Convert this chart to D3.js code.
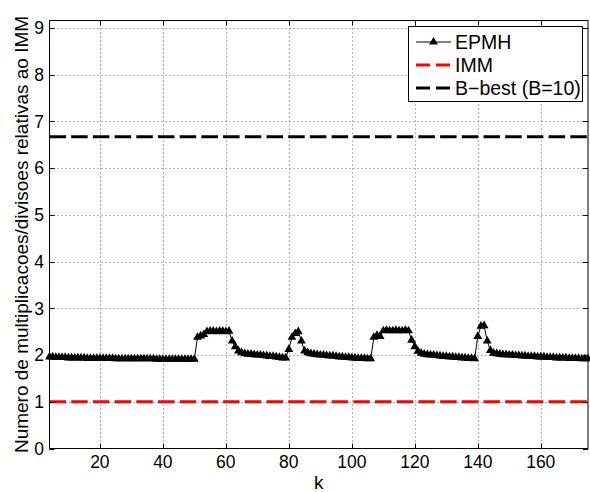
<!DOCTYPE html>
<html>
<head>
<meta charset="utf-8">
<script src="https://cdn.jsdelivr.net/npm/d3@7"></script>
<style>
  body { margin: 0; background: #fff; }
  svg { display: block; font-family: "Liberation Sans", Arial, Helvetica, sans-serif; }
</style>
</head>
<body>
<div id="chart"></div>
<script>
// ---- data ----
var kFirst = 4;   // first k of the EPMH series
var epmh = [
  1.96,1.96,1.95,1.95,1.95,1.95,1.94,1.94,1.94,1.94,
  1.94,1.94,1.93,1.93,1.93,1.93,1.93,1.93,1.93,1.93,
  1.93,1.92,1.92,1.92,1.92,1.92,1.92,1.92,1.92,1.92,
  1.92,1.92,1.92,1.92,1.91,1.91,1.91,1.91,1.91,1.91,
  1.91,1.91,1.91,1.91,1.91,1.91,
  1.91,
  2.38,2.41,2.44,2.50,2.51,2.51,2.50,2.51,2.51,2.50,2.51,
  2.30,2.18,2.09,2.05,2.03,2.02,2.02,2.01,2.00,2.00,1.99,1.98,1.97,1.97,1.96,1.95,1.94,1.94,
  2.12,2.38,2.46,2.50,2.30,2.09,
  2.05,2.03,2.02,2.01,2.00,2.00,1.99,1.98,1.98,1.97,1.96,1.96,1.95,1.95,1.94,1.94,1.93,1.93,1.93,1.92,1.92,
  2.38,2.42,2.40,2.52,2.53,2.52,2.52,2.53,2.52,2.52,2.53,2.52,
  2.32,2.18,2.08,2.04,2.02,2.01,2.00,2.00,1.99,1.98,1.97,1.97,1.96,1.96,1.95,1.95,1.94,1.94,1.93,1.93,1.92,
  2.40,2.62,2.63,2.30,2.10,
  2.04,2.03,2.02,2.01,2.01,2.00,2.00,1.99,1.99,1.98,1.98,1.97,1.97,1.97,1.96,1.96,1.96,1.95,1.95,1.95,
  1.94,1.94,1.94,1.94,1.93,1.93,1.93,1.93,1.92,1.92,1.92
];
var immLevel = 1;        // IMM reference
var bBestLevel = 6.67;   // B-best (B=10)
var xTicks = [20, 40, 60, 80, 100, 120, 140, 160];
var yTicks = [0, 1, 2, 3, 4, 5, 6, 7, 8, 9];
var xDomain = [4, 175];
var yDomain = [0, 9.16];
var legendLabels = ["EPMH", "IMM", "B\u2212best (B=10)"];

(function(){
  // ---- layout ----
  var W = 590, H = 492;
  var mLeft = 49.5, mTop = 20.5, mRight = 588, mBottom = 448.5;

  var svg = d3.select("#chart").append("svg")
    .attr("width", W)
    .attr("height", H);

  var x = d3.scaleLinear().domain(xDomain).range([mLeft, mRight]);
  var y = d3.scaleLinear().domain(yDomain).range([mBottom, mTop]);

  //grid
  var grid = svg.append("g").attr("class", "grid")
    .attr("stroke", "#444")
    .attr("stroke-width", 0.8)
    .attr("stroke-dasharray", "1,3");

  grid.selectAll("line.gx")
    .data(xTicks)
    .enter().append("line")
    .attr("x1", function(d){ return Math.round(x(d)) + 0.5; })
    .attr("x2", function(d){ return Math.round(x(d)) + 0.5; })
    .attr("y1", mTop).attr("y2", mBottom);

  grid.selectAll("line.gy")
    .data(yTicks.filter(function(d){ return d > 0; }))
    .enter().append("line")
    .attr("y1", function(d){ return Math.round(y(d)) + 0.5; })
    .attr("y2", function(d){ return Math.round(y(d)) + 0.5; })
    .attr("x1", mLeft).attr("x2", mRight);

  //reference lines
  svg.append("line")
    .attr("x1", mLeft).attr("x2", mRight)
    .attr("y1", y(bBestLevel)).attr("y2", y(bBestLevel))
    .attr("stroke", "#000")
    .attr("stroke-width", 3)
    .attr("stroke-dasharray", "16.5,5.2");

  svg.append("line")
    .attr("x1", mLeft).attr("x2", mRight)
    .attr("y1", y(immLevel)).attr("y2", y(immLevel))
    .attr("stroke", "#ff0000")
    .attr("stroke-width", 3)
    .attr("stroke-dasharray", "16.5,5.2");

  //EPMH series
  var pts = epmh.map(function(v, i){ return { k: kFirst + i, v: v }; });

  svg.append("path")
    .datum(pts)
    .attr("fill", "none")
    .attr("stroke", "#000")
    .attr("stroke-width", 1)
    .attr("d", d3.line()
      .x(function(d){ return x(d.k); })
      .y(function(d){ return y(d.v); }));

  var tri = d3.symbol().type(d3.symbolTriangle).size(34);
  svg.selectAll("path.mk")
    .data(pts)
    .enter().append("path")
    .attr("class", "mk")
    .attr("d", tri)
    .attr("fill", "#000")
    .attr("transform", function(d){ return "translate(" + x(d.k) + "," + y(d.v) + ")"; });

  //axes box and ticks (MATLAB style, ticks inside on all sides)
  var axes = svg.append("g")
    .attr("stroke", "#000")
    .attr("stroke-width", 1);

  axes.append("rect")
    .attr("x", mLeft).attr("y", mTop)
    .attr("width", mRight - mLeft).attr("height", mBottom - mTop)
    .attr("fill", "none");

  var tl = 5;
  xTicks.forEach(function(t){
    var px = Math.round(x(t)) + 0.5;
    axes.append("line").attr("x1", px).attr("x2", px).attr("y1", mBottom).attr("y2", mBottom - tl);
    axes.append("line").attr("x1", px).attr("x2", px).attr("y1", mTop).attr("y2", mTop + tl);
  });
  yTicks.forEach(function(t){
    var py = Math.round(y(t)) + 0.5;
    axes.append("line").attr("y1", py).attr("y2", py).attr("x1", mLeft).attr("x2", mLeft + tl);
    axes.append("line").attr("y1", py).attr("y2", py).attr("x1", mRight).attr("x2", mRight - tl);
  });

  //tick labels
  svg.selectAll("text.xt")
    .data(xTicks)
    .enter().append("text")
    .attr("x", function(d){ return x(d); })
    .attr("y", 468)
    .attr("text-anchor", "middle")
    .attr("font-size", 17.5)
    .text(function(d){ return d; });

  svg.selectAll("text.yt")
    .data(yTicks)
    .enter().append("text")
    .attr("x", 44)
    .attr("y", function(d){ return y(d); })
    .attr("dy", "0.36em")
    .attr("text-anchor", "end")
    .attr("font-size", 17.5)
    .text(function(d){ return d; });

  //axis labels
  svg.append("text")
    .attr("x", (mLeft + mRight) / 2)
    .attr("y", 489)
    .attr("text-anchor", "middle")
    .attr("font-size", 19)
    .text("k");

  svg.append("text")
    .attr("transform", "translate(28," + ((mTop + mBottom) / 2) + ") rotate(-90)")
    .attr("text-anchor", "middle")
    .attr("font-size", 19)
    .text("Numero de multiplicacoes/divisoes relativas ao IMM");

  //legend
  var lg = svg.append("g");
  lg.append("rect")
    .attr("x", 408.5).attr("y", 26.5)
    .attr("width", 174).attr("height", 75)
    .attr("fill", "#fff")
    .attr("stroke", "#000")
    .attr("stroke-width", 1);

  var rowsY = [42, 65, 88];
  var styles = [
    { stroke: "#000", width: 1, dash: null, marker: true },
    { stroke: "#ff0000", width: 3, dash: "14,6", marker: false },
    { stroke: "#000", width: 3, dash: "14,6", marker: false }
  ];

  legendLabels.forEach(function(lab, i){
    var s = styles[i];
    var ln = lg.append("line")
      .attr("x1", 416).attr("x2", 451)
      .attr("y1", rowsY[i]).attr("y2", rowsY[i])
      .attr("stroke", s.stroke)
      .attr("stroke-width", s.width);
    if(s.dash) ln.attr("stroke-dasharray", s.dash);
    if(s.marker){
      lg.append("path")
        .attr("d", tri)
        .attr("fill", "#000")
        .attr("transform", "translate(433.5," + rowsY[i] + ")");
    }
    lg.append("text")
      .attr("x", 455)
      .attr("y", rowsY[i])
      .attr("dy", "0.36em")
      .attr("font-size", 19.5)
      .text(lab);
  });
})();
</script>
</body>
</html>
